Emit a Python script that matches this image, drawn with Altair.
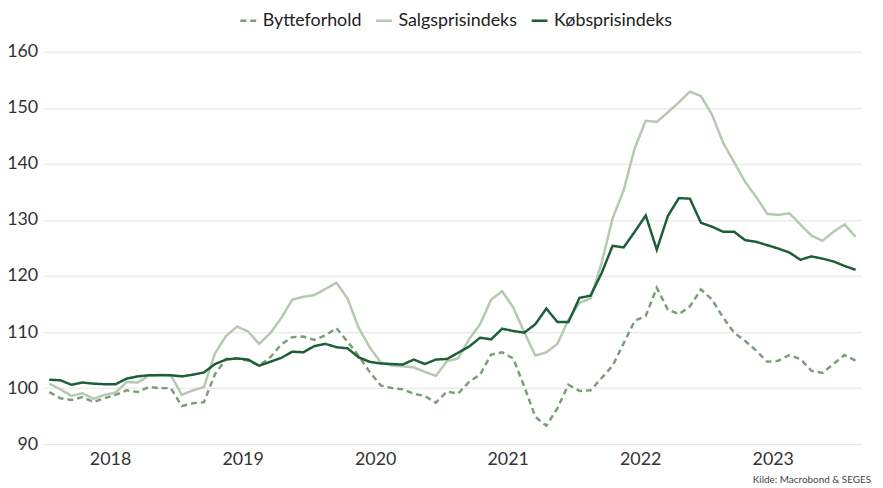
import altair as alt
import pandas as pd

# ---- data (monthly, Jan 2018 ... Feb 2024) ----
start_year = 2018
years = [2018, 2019, 2020, 2021, 2022, 2023]
y_ticks = [90, 100, 110, 120, 130, 140, 150, 160]

series_names = ["Bytteforhold", "Salgsprisindeks", "Købsprisindeks"]
series_colors = ["#7d9d7a", "#b5c9b1", "#1b5e38"]
series_dash = [[6, 4], [1, 0], [1, 0]]

bytteforhold = [
    99.3, 98.2, 97.9, 98.4, 97.5, 98.2, 98.8, 99.6, 99.3, 100.2, 100.0, 100.0,
    96.8, 97.3, 97.5, 102.5, 105.2, 105.3, 104.9, 104.0, 105.5, 107.8, 109.1, 109.2,
    108.6, 109.4, 110.7, 108.3, 105.8, 102.9, 100.5, 100.0, 99.8, 99.0, 98.6, 97.4,
    99.4, 99.0, 101.1, 102.4, 106.0, 106.4, 105.3, 100.3, 94.9, 93.3, 96.4, 100.6,
    99.5, 99.6, 101.8, 104.0, 108.0, 112.0, 112.9, 117.9, 114.0, 113.2, 114.6, 117.6,
    115.8, 112.6, 109.9, 108.4, 106.7, 104.7, 104.9, 105.9, 105.2, 103.1, 102.7, 104.3,
    105.9, 104.9,
]
salgsprisindeks = [
    100.8, 99.8, 98.6, 99.1, 98.1, 98.8, 99.2, 101.1, 101.0, 102.2, 102.4, 102.3,
    98.8, 99.6, 100.2, 106.2, 109.3, 111.0, 110.1, 107.9, 109.8, 112.5, 115.8, 116.3,
    116.6, 117.7, 118.8, 116.0, 110.8, 107.3, 104.6, 104.0, 103.9, 103.7, 102.9, 102.2,
    104.8, 105.3, 108.7, 111.4, 115.8, 117.3, 114.4, 110.0, 105.8, 106.4, 107.9, 112.2,
    115.2, 116.0, 122.3, 130.3, 135.3, 142.8, 147.7, 147.5, 149.2, 151.0, 152.9, 152.1,
    148.8, 143.8, 140.3, 136.8, 134.1, 131.1, 130.9, 131.2, 129.2, 127.2, 126.3, 127.9,
    129.2, 127.0,
]
koebsprisindeks = [
    101.5, 101.4, 100.6, 101.0, 100.8, 100.7, 100.7, 101.7, 102.1, 102.3, 102.3, 102.3,
    102.1, 102.4, 102.8, 104.3, 105.1, 105.3, 105.1, 104.0, 104.7, 105.4, 106.5, 106.4,
    107.5, 107.9, 107.3, 107.1, 105.5, 104.7, 104.4, 104.3, 104.2, 105.1, 104.3, 105.1,
    105.2, 106.3, 107.4, 109.0, 108.7, 110.6, 110.2, 109.9, 111.4, 114.2, 111.8, 111.8,
    116.1, 116.5, 120.5, 125.4, 125.1, 127.9, 130.8, 124.7, 130.7, 133.9, 133.8, 129.5,
    128.8, 127.9, 127.9, 126.4, 126.1, 125.5, 124.9, 124.2, 122.9, 123.5, 123.1, 122.6,
    121.8, 121.1,
]
source_text = "Kilde: Macrobond & SEGES"

# ---- table ----
rows = []
for name, vals in zip(series_names, [bytteforhold, salgsprisindeks, koebsprisindeks]):
    for i, v in enumerate(vals):
        rows.append({"serie": name, "t": i, "v": v, "ord": series_names.index(name)})
df = pd.DataFrame(rows)

# year labels centred in the middle of each year's 12 months
year_pos = [(y - start_year) * 12 + 5.5 for y in years]

FONT = "Lato"

legend_def = alt.Legend(
    title=None, orient="none", legendX=198, legendY=-41, direction="horizontal",
    symbolType="stroke", symbolSize=256, symbolStrokeWidth=2.5,
    labelFont=FONT, labelFontSize=18, labelColor="#222222",
    labelOffset=5, columnPadding=9, padding=0,
)

lines = alt.Chart(df).mark_line(strokeWidth=2.5).encode(
    x=alt.X("t:Q",
            scale=alt.Scale(domain=[-0.6, 73.5], nice=False, zero=False),
            axis=alt.Axis(values=year_pos, title=None, grid=False, domain=False, ticks=False,
                          labelExpr="'' + (%d + round((datum.value - 5.5) / 12))" % start_year,
                          labelPadding=6, labelFont=FONT, labelFontSize=18, labelColor="#333333")),
    y=alt.Y("v:Q",
            scale=alt.Scale(domain=[90, 160], nice=False, zero=False),
            axis=alt.Axis(values=y_ticks, title=None, domain=False, ticks=False,
                          gridColor="#e3e3e3", gridWidth=1, labelPadding=5,
                          labelFont=FONT, labelFontSize=18, labelColor="#333333")),
    color=alt.Color("serie:N", scale=alt.Scale(domain=series_names, range=series_colors),
                    legend=legend_def),
    strokeDash=alt.StrokeDash("serie:N", scale=alt.Scale(domain=series_names, range=series_dash),
                              legend=legend_def),
    order=alt.Order("ord:Q"),
)

src = alt.Chart(pd.DataFrame({"s": [source_text]})).mark_text(
    align="right", baseline="top", font=FONT, fontSize=10, color="#444444"
).encode(x=alt.value(836), y=alt.value(427), text="s:N")

chart = alt.layer(lines, src).properties(
    width=826, height=396,
    autosize=alt.AutoSizeParams(type="none"),
    padding={"left": 35, "top": 42, "right": 14, "bottom": 42},
).configure_view(stroke=None)

chart.save("out.html", embed_options={"renderer": "svg", "actions": False})
